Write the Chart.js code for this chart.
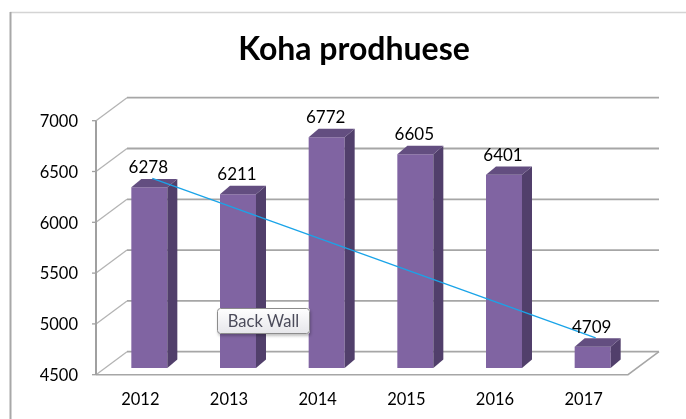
<!DOCTYPE html>
<html><head><meta charset="utf-8">
<script src="https://cdn.jsdelivr.net/npm/chart.js@4.4.1/dist/chart.umd.min.js"></script>
<style>html,body{margin:0;padding:0;background:#fff;overflow:hidden}
#wrap{position:relative;width:686px;height:419px}</style>
</head><body><div id="wrap"><canvas id="c" width="686" height="419"></canvas></div>
<script>
const categories = ['2012', '2013', '2014', '2015', '2016', '2017'];
const values = [6278, 6211, 6772, 6605, 6401, 4709];
const trendValues = [6278, null, null, null, null, 4709];
const yTicks = [4500, 5000, 5500, 6000, 6500, 7000];
const titleText = 'Koha prodhuese';
const wallLabel = 'Back Wall';

const FONT = 'Lato, "Open Sans", sans-serif';
const FRONT = {x: -9, y: 6.7};     // front plane offset from bar plane
const BACK = {x: 22, y: -16.3};    // back wall offset from bar plane
const BAR_DEPTH = {x: 10, y: -8.4};

const threeD = {
  id: 'threeD',
  beforeDraw(chart) {
    const ctx = chart.ctx;
    ctx.save();
    ctx.fillStyle = '#fff';
    ctx.fillRect(0, 0, chart.width, chart.height);
    ctx.strokeStyle = '#d4d4d4'; ctx.lineWidth = 1.5;
    ctx.beginPath(); ctx.moveTo(10, 12.5); ctx.lineTo(chart.width, 12.5); ctx.stroke();
    ctx.strokeStyle = '#a8a8a8'; ctx.lineWidth = 2;
    ctx.beginPath(); ctx.moveTo(10.5, 12); ctx.lineTo(10.5, chart.height); ctx.stroke();
    ctx.fillStyle = '#000';
    ctx.font = 'bold 32px ' + FONT;
    ctx.textAlign = 'center'; ctx.textBaseline = 'alphabetic';
    ctx.fillText(titleText, 354, 60);
    ctx.restore();
  },
  beforeDatasetsDraw(chart) {
    const ctx = chart.ctx, y = chart.scales.y, a = chart.chartArea;
    ctx.save();
    ctx.lineCap = 'butt';
    yTicks.forEach(v => {
      const yp = y.getPixelForValue(v);
      ctx.strokeStyle = '#a6a6a6'; ctx.lineWidth = 1.8;
      ctx.beginPath();
      ctx.moveTo(a.left + BACK.x, yp + BACK.y);
      ctx.lineTo(a.right + BACK.x, yp + BACK.y);
      ctx.stroke();
      ctx.strokeStyle = '#b4b4b4'; ctx.lineWidth = 1.3;
      ctx.beginPath();
      ctx.moveTo(a.left + FRONT.x, yp + FRONT.y);
      ctx.lineTo(a.left + BACK.x, yp + BACK.y);
      ctx.stroke();
    });
    const y0 = y.getPixelForValue(yTicks[0]);
    const y1 = y.getPixelForValue(yTicks[yTicks.length - 1]);
    ctx.strokeStyle = '#a6a6a6'; ctx.lineWidth = 1.5;
    ctx.beginPath();
    ctx.moveTo(a.left + FRONT.x, y0 + FRONT.y);
    ctx.lineTo(a.right + FRONT.x, y0 + FRONT.y);
    ctx.lineTo(a.right + BACK.x, y0 + BACK.y);
    ctx.stroke();
    ctx.strokeStyle = '#a0a0a0'; ctx.lineWidth = 2;
    ctx.beginPath();
    ctx.moveTo(a.left + FRONT.x, y1 + FRONT.y);
    ctx.lineTo(a.left + FRONT.x, y0 + FRONT.y);
    ctx.stroke();
    ctx.lineWidth = 1.3;
    yTicks.forEach(v => {
      const yp = y.getPixelForValue(v) + FRONT.y;
      ctx.beginPath();
      ctx.moveTo(a.left + FRONT.x - 4, yp);
      ctx.lineTo(a.left + FRONT.x, yp);
      ctx.stroke();
    });
    ctx.restore();
  },
  beforeDatasetDraw(chart, args) {
    if (chart.data.datasets[args.index].type === 'line') {
      chart.ctx.save();
      chart.ctx.translate(3, -9);
    }
  },
  afterDatasetDraw(chart, args) {
    const ctx = chart.ctx;
    const ds = chart.data.datasets[args.index];
    if (ds.type === 'line') { ctx.restore(); return; }
    const a = chart.chartArea;
    ctx.save();
    args.meta.data.forEach(el => {
      const l = el.x - el.width / 2, r = el.x + el.width / 2;
      const t = el.y, b = Math.min(el.base, a.bottom);
      ctx.fillStyle = '#513f6b';
      ctx.beginPath();
      ctx.moveTo(r, t); ctx.lineTo(r + BAR_DEPTH.x, t + BAR_DEPTH.y);
      ctx.lineTo(r + BAR_DEPTH.x, b + BAR_DEPTH.y); ctx.lineTo(r, b);
      ctx.closePath(); ctx.fill();
      ctx.fillStyle = '#634e80';
      ctx.beginPath();
      ctx.moveTo(l, t); ctx.lineTo(l + BAR_DEPTH.x, t + BAR_DEPTH.y);
      ctx.lineTo(r + BAR_DEPTH.x, t + BAR_DEPTH.y); ctx.lineTo(r, t);
      ctx.closePath(); ctx.fill();
    });
    ctx.restore();
  },
  afterDraw(chart) {
    const ctx = chart.ctx, y = chart.scales.y, x = chart.scales.x;
    ctx.save();
    ctx.fillStyle = '#000';
    const barMeta = chart.getDatasetMeta(1);
    ctx.font = '17px ' + FONT;
    ctx.textAlign = 'center'; ctx.textBaseline = 'middle';
    barMeta.data.forEach((el, i) => {
      ctx.fillText(String(values[i]), el.x - 1, el.y - 19.5);
    });
    ctx.font = '16.5px ' + FONT;
    ctx.textAlign = 'right';
    yTicks.forEach(v => {
      ctx.fillText(String(v), 78, y.getPixelForValue(v) + FRONT.y + 1);
    });
    ctx.textAlign = 'center';
    ctx.font = '16.5px ' + FONT;
    categories.forEach((c, i) => {
      ctx.fillText(c, x.getPixelForValue(i) + FRONT.x, 400);
    });
    const bx = 217, by = 308, bw = 93, bh = 26;
    ctx.shadowColor = 'rgba(0,0,0,0.25)'; ctx.shadowBlur = 3; ctx.shadowOffsetX = 1; ctx.shadowOffsetY = 2;
    const g = ctx.createLinearGradient(0, by, 0, by + bh);
    g.addColorStop(0, '#ffffff'); g.addColorStop(1, '#e6e6ea');
    ctx.fillStyle = g;
    ctx.beginPath(); ctx.roundRect(bx, by, bw, bh, 3); ctx.fill();
    ctx.shadowColor = 'transparent';
    ctx.strokeStyle = '#8c8c8c'; ctx.lineWidth = 1;
    ctx.beginPath(); ctx.roundRect(bx + 0.5, by + 0.5, bw - 1, bh - 1, 3); ctx.stroke();
    ctx.fillStyle = '#4b4b5a';
    ctx.font = '16.5px ' + FONT;
    ctx.textAlign = 'center'; ctx.textBaseline = 'middle';
    ctx.fillText(wallLabel, bx + bw / 2, by + bh / 2 + 0.5);
    ctx.restore();
  }
};

function build() {
  new Chart(document.getElementById('c'), {
    type: 'bar',
    data: {
      labels: categories,
      datasets: [
        { type: 'line', data: trendValues, spanGaps: true, borderColor: '#1aa4e8', borderWidth: 1.3,
          pointRadius: 0, fill: false, tension: 0, order: 0 },
        { type: 'bar', data: values, backgroundColor: '#8064a2', borderWidth: 0,
          barPercentage: 0.406, categoryPercentage: 1, order: 1 }
      ]
    },
    options: {
      responsive: false, animation: false, devicePixelRatio: 1,
      layout: { padding: { left: 105, right: 49, top: 114, bottom: 51 } },
      scales: {
        x: { display: false, offset: true },
        y: { display: false, min: 4500, max: 7000 }
      },
      plugins: { legend: { display: false }, tooltip: { enabled: false }, title: { display: false } }
    },
    plugins: [threeD]
  });
}
if (document.fonts && document.fonts.load) {
  Promise.all([document.fonts.load('16px Lato'), document.fonts.load('bold 32px Lato')]).then(build, build);
} else { build(); }
</script>
</body></html>
